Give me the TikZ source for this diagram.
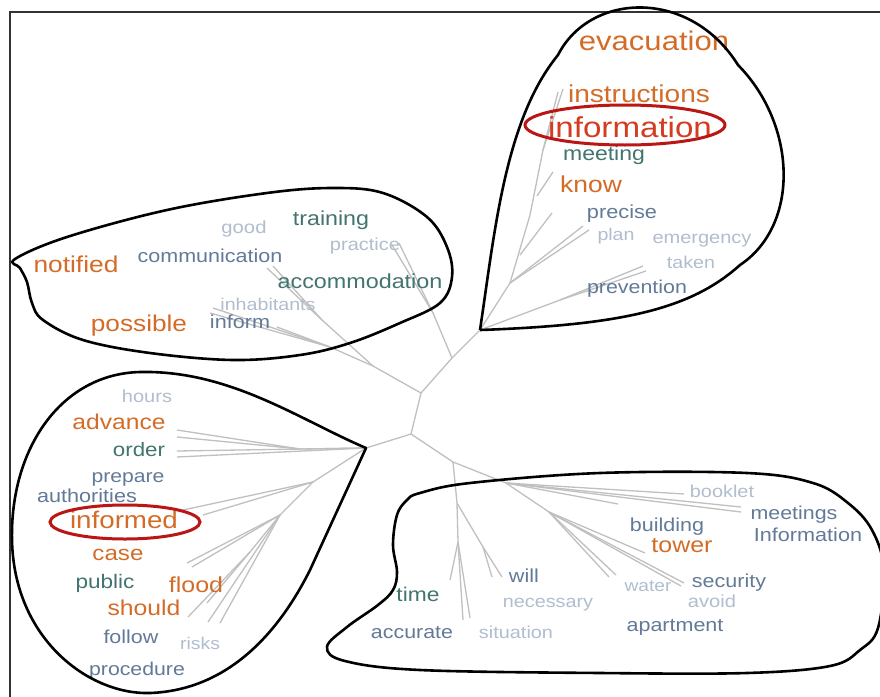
\documentclass[tikz,border=0pt]{standalone}
\usepackage{fontspec}
\setmainfont{Liberation Sans}[FakeStretch=1.15]
\definecolor{corange}{RGB}{212,108,40}
\definecolor{cred}{RGB}{212,60,32}
\definecolor{cteal}{RGB}{66,116,112}
\definecolor{cslate}{RGB}{98,122,152}
\definecolor{clight}{RGB}{176,190,206}
\definecolor{cring}{RGB}{186,22,22}
\definecolor{ctree}{RGB}{192,192,192}
\tikzset{
  word/.style={inner sep=0pt, anchor=base},
  fs/.style={font=\fontsize{#1}{#1}\selectfont},
  orw/.style={word, text=corange},
  rdw/.style={word, text=cred},
  tlw/.style={word, text=cteal},
  slw/.style={word, text=cslate},
  ltw/.style={word, text=clight},
  branch/.style={draw=ctree, line width=1.3pt},
  bubble/.style={draw=black, line width=2.6pt, line join=round},
  ring/.style={draw=cring, line width=3pt},
  frame/.style={draw=black!80, line width=2pt}
}
\begin{document}
\begin{tikzpicture}[x=1pt,y=-1pt]
\useasboundingbox (0,0) rectangle (880,696);
\fill[white] (0,0) rectangle (880,696);
\draw[frame] (10,697) -- (10,12) -- (881,12);

% ---------- tree coordinates ----------
\coordinate (hA) at (421,393);
\coordinate (hB) at (411,434);
\coordinate (hN) at (452,358);
\coordinate (tr) at (480,330);
\coordinate (hJ) at (373,366);
\coordinate (bl) at (366,448);
\coordinate (hC) at (453,462);
% top right
\coordinate (t1) at (510,283);
\coordinate (t2) at (530,215);
\coordinate (t3) at (543,150);
\coordinate (t4a) at (558,92);
\coordinate (t4b) at (563,89);
\coordinate (t2b) at (537,196);
\coordinate (tk) at (553,172);
\coordinate (t1b) at (520,255);
\coordinate (tpr) at (552,213);
\coordinate (tpl1) at (583,226);
\coordinate (tpl2) at (589,230);
\coordinate (tq) at (560,300);
\coordinate (tta1) at (643,266);
\coordinate (tta2) at (646,271);
% top left
\coordinate (p1) at (433,313);
\coordinate (pe1) at (392,245);
\coordinate (pe2) at (399,243);
\coordinate (j1) at (330,347);
\coordinate (j2) at (322,320);
\coordinate (ji1) at (213,308);
\coordinate (ji2) at (210,313);
\coordinate (ji3) at (277,327);
\coordinate (jc1) at (267,268);
\coordinate (jc2) at (273,266);
% bottom left
\coordinate (b1) at (300,449);
\coordinate (ba1) at (177,430);
\coordinate (ba2) at (177,437);
\coordinate (bo1) at (177,451);
\coordinate (bo2) at (177,457);
\coordinate (b2) at (313,482);
\coordinate (bi1) at (183,510);
\coordinate (bi2) at (203,515);
\coordinate (b3) at (280,515);
\coordinate (bc1) at (187,563);
\coordinate (bc2) at (192,567);
\coordinate (b4) at (250,552);
\coordinate (bs1) at (188,617);
\coordinate (bs2) at (207,603);
\coordinate (br1) at (220,623);
\coordinate (br2) at (208,622);
% bottom right
\coordinate (d1) at (506,483);
\coordinate (dbk) at (684,494);
\coordinate (dm1) at (741,507);
\coordinate (dm2) at (741,512);
\coordinate (dx) at (618,504);
\coordinate (e1) at (549,512);
\coordinate (et) at (645,553);
\coordinate (es1) at (684,583);
\coordinate (es2) at (681,586);
\coordinate (ew1) at (616,575);
\coordinate (ew2) at (609,577);
\coordinate (f1) at (457,503);
\coordinate (g1) at (458,542);
\coordinate (gt) at (450,580);
\coordinate (gs1) at (463,620);
\coordinate (gs2) at (470,618);
\coordinate (h1) at (483,547);
\coordinate (hw1) at (492,577);
\coordinate (hw2) at (502,577);

% ---------- tree ----------
\draw[branch] (hA) -- (hB);
\draw[branch] (hA) -- (hN) -- (tr);
\draw[branch] (hA) -- (hJ);
\draw[branch] (hB) -- (bl);
\draw[branch] (hB) -- (hC);
% top right
\draw[branch] (tr) -- (t1) -- (t2) -- (t3) -- (t4a);
\draw[branch] (t3) -- (t4b);
\draw[branch] (t2b) -- (tk);
\draw[branch] (t1b) -- (tpr);
\draw[branch] (t1) -- (tpl1);
\draw[branch] (t1) -- (tpl2);
\draw[branch] (tr) -- (tq) -- (tta1);
\draw[branch] (tq) -- (tta2);
% top left
\draw[branch] (hN) -- (p1) -- (pe1);
\draw[branch] (p1) -- (pe2);
\draw[branch] (hJ) -- (j1) -- (ji1);
\draw[branch] (j1) -- (ji2);
\draw[branch] (j1) -- (ji3);
\draw[branch] (hJ) -- (j2) -- (jc1);
\draw[branch] (j2) -- (jc2);
% bottom left
\draw[branch] (bl) -- (b1) -- (ba1);
\draw[branch] (b1) -- (ba2);
\draw[branch] (bl) -- (bo1);
\draw[branch] (bl) -- (bo2);
\draw[branch] (bl) -- (b2) -- (bi1);
\draw[branch] (b2) -- (bi2);
\draw[branch] (b2) -- (b3) -- (bc1);
\draw[branch] (b3) -- (bc2);
\draw[branch] (b3) -- (b4) -- (bs1);
\draw[branch] (b4) -- (bs2);
\draw[branch] (b3) -- (br1);
\draw[branch] (b3) -- (br2);
% bottom right
\draw[branch] (hC) -- (d1) -- (dbk);
\draw[branch] (d1) -- (dm1);
\draw[branch] (d1) -- (dm2);
\draw[branch] (d1) -- (dx);
\draw[branch] (d1) -- (e1) -- (et);
\draw[branch] (e1) -- (es1);
\draw[branch] (e1) -- (es2);
\draw[branch] (e1) -- (ew1);
\draw[branch] (e1) -- (ew2);
\draw[branch] (hC) -- (f1) -- (g1) -- (gt);
\draw[branch] (g1) -- (gs1);
\draw[branch] (g1) -- (gs2);
\draw[branch] (f1) -- (h1) -- (hw1);
\draw[branch] (h1) -- (hw2);

% ---------- words: top right ----------
\node[orw, fs=27] (wevac) at (654,50) {evacuation};
\node[orw, fs=24.4] (winstr) at (639,102) {instructions};
\node[rdw, fs=28.8] (winfo) at (630,137) {information};
\node[tlw, fs=20] (wmeet) at (604,160) {meeting};
\node[orw, fs=23] (wknow) at (591,192) {know};
\node[slw, fs=18.9] (wprec) at (622,218) {precise};
\node[ltw, fs=17] (wplan) at (616,240) {plan};
\node[ltw, fs=17.4] (wemer) at (702,243) {emergency};
\node[ltw, fs=17.1] (wtaken) at (691,268) {taken};
\node[slw, fs=18.6] (wprev) at (637,293) {prevention};
% top left
\node[ltw, fs=17.6] (wgood) at (244,233) {good};
\node[tlw, fs=20.2] (wtrain) at (331,225) {training};
\node[ltw, fs=17.4] (wprac) at (365,250) {practice};
\node[orw, fs=22.9] (wnoti) at (76,272) {notified};
\node[slw, fs=18.7] (wcomm) at (210,262) {communication};
\node[tlw, fs=20.3] (wacco) at (360,288) {accommodation};
\node[ltw, fs=17.1] (winha) at (268,310) {inhabitants};
\node[orw, fs=22.8] (wposs) at (139,331) {possible};
\node[slw, fs=18.8] (winfm) at (240,328) {inform};
% bottom left
\node[ltw, fs=17.4] (whours) at (147,402) {hours};
\node[orw, fs=21.4] (wadv) at (119,429) {advance};
\node[tlw, fs=19.4] (word) at (139,456) {order};
\node[slw, fs=18.4] (wprep) at (128,482) {prepare};
\node[slw, fs=18.8] (wauth) at (87,502) {authorities};
\node[orw, fs=24.1] (winfd) at (124,528) {informed};
\node[orw, fs=21] (wcase) at (118,560) {case};
\node[tlw, fs=19.6] (wpub) at (105,588) {public};
\node[orw, fs=21.7] (wflood) at (196,592) {flood};
\node[orw, fs=21.5] (wshould) at (144,615) {should};
\node[slw, fs=18.7] (wfollow) at (131,643) {follow};
\node[ltw, fs=16.9] (wrisks) at (200,649) {risks};
\node[slw, fs=18.5] (wproc) at (137,675) {procedure};
% bottom right
\node[ltw, fs=17.3] (wbook) at (722,497) {booklet};
\node[slw, fs=18.6] (wmeets) at (794,519) {meetings};
\node[slw, fs=18.8] (wInfo) at (808,541) {Information};
\node[slw, fs=18.7] (wbuild) at (667,531) {building};
\node[orw, fs=21.7] (wtower) at (682,552) {tower};
\node[ltw, fs=16.7] (wwater) at (648,591) {water};
\node[slw, fs=18.7] (wsec) at (729,587) {security};
\node[ltw, fs=17.5] (wavoid) at (712,607) {avoid};
\node[slw, fs=18.7] (wapart) at (675,631) {apartment};
\node[slw, fs=18.8] (wwill) at (524,582) {will};
\node[ltw, fs=17.2] (wnec) at (548,607) {necessary};
\node[tlw, fs=19.8] (wtime) at (418,601) {time};
\node[slw, fs=18.6] (wacc) at (412,638) {accurate};
\node[ltw, fs=17.3] (wsit) at (516,638) {situation};

% ---------- bubbles ----------
\draw[bubble] (tr) .. controls (495,230) and (505,120) .. (558,55)
  .. controls (590,-8) and (690,-12) .. (738,65)
  .. controls (797,125) and (800,225) .. (740,265)
  .. controls (690,310) and (620,325) .. (tr);
\draw[bubble] plot[smooth cycle, tension=0.6] coordinates {
  (15,259) (67,237) (167,210) (267,193) (333,188) (383,193) (427,217)
  (447,247) (452,277) (440,303) (400,323) (350,343) (300,355) (233,360)
  (150,353) (83,340) (43,320) (32,303) (27,282) (20,268)};
\draw[bubble] (bl) .. controls (300,420) and (230,370) .. (140,372)
  .. controls (60,374) and (10,450) .. (12,540)
  .. controls (14,640) and (90,695) .. (150,693)
  .. controls (230,690) and (280,630) .. (310,570) -- cycle;
\draw[bubble] plot[smooth cycle, tension=0.6] coordinates {
  (397,515) (407,500) (420,493) (470,483) (600,473) (747,473) (813,483)
  (848,503) (872,530) (884,570) (878,628) (860,650) (830,666) (747,673)
  (600,673) (420,670) (345,661) (327,647) (347,627) (378,605) (393,590)
  (397,572) (393,545)};

% ---------- rings ----------
\draw[ring] (625,125) ellipse [x radius=100pt, y radius=20pt];
\draw[ring] (125,522) ellipse [x radius=75pt, y radius=17pt];
\end{tikzpicture}
\end{document}
